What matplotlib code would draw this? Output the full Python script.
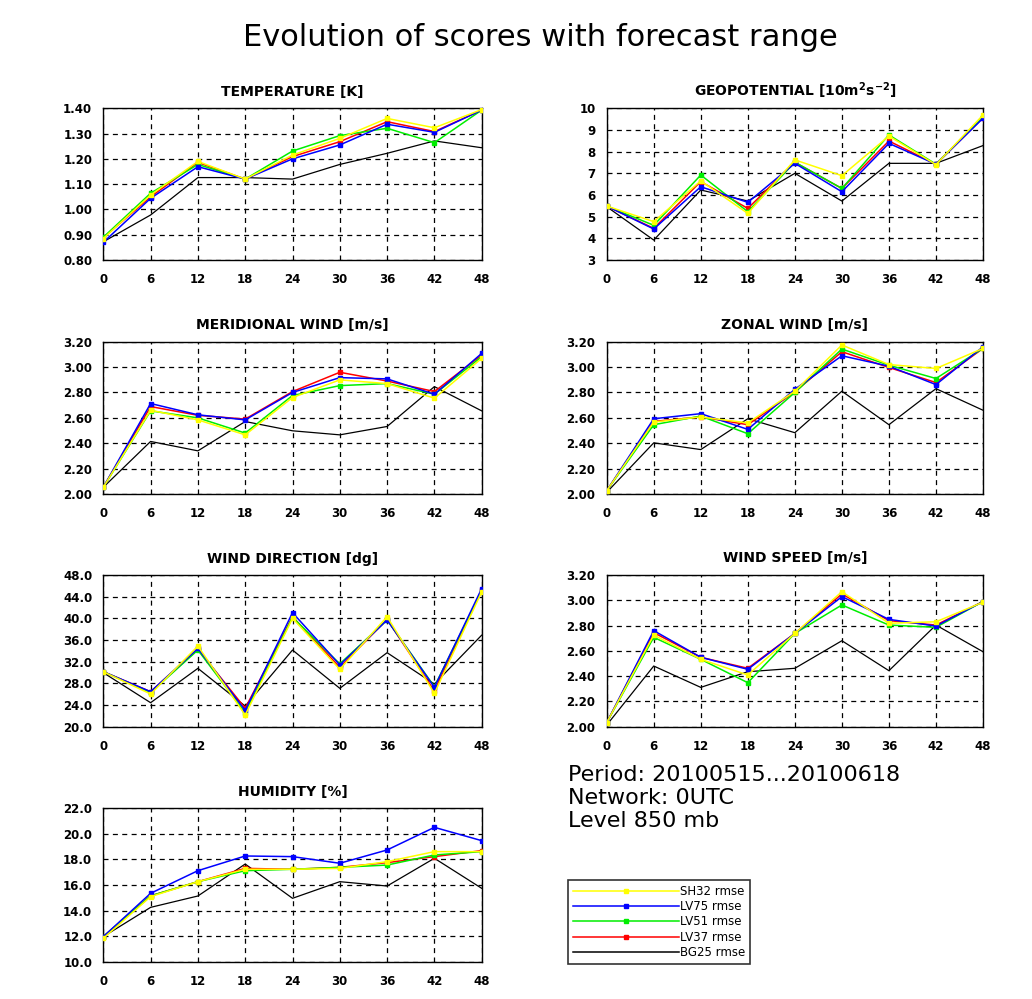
import matplotlib
matplotlib.use("Agg")
import matplotlib.pyplot as plt
from matplotlib.lines import Line2D

plt.rcParams['font.family'] = ['DejaVu Sans']
plt.rcParams['mathtext.fontset'] = 'dejavusans'
plt.rcParams['mathtext.default'] = 'bf'

# Forecast range (hours)
steps = [0, 6, 12, 18, 24, 30, 36, 42, 48]

series_names = ["SH32 rmse", "LV75 rmse", "LV51 rmse", "LV37 rmse", "BG25 rmse"]
series_colors = ["#ffff00", "#0000ff", "#00ee00", "#ff0000", "#000000"]

# RMSE per parameter: SH32, LV75, LV51, LV37, BG25
temp_sh32 = [0.885, 1.057, 1.190, 1.120, 1.215, 1.281, 1.360, 1.323, 1.395]
temp_lv75 = [0.870, 1.044, 1.169, 1.120, 1.200, 1.255, 1.337, 1.305, 1.393]
temp_lv51 = [0.890, 1.064, 1.178, 1.120, 1.231, 1.292, 1.321, 1.264, 1.393]
temp_lv37 = [0.888, 1.050, 1.186, 1.120, 1.209, 1.268, 1.347, 1.308, 1.393]
temp_bg25 = [0.872, 0.978, 1.126, 1.126, 1.120, 1.178, 1.222, 1.271, 1.244]

geo_sh32 = [5.49, 4.77, 6.65, 5.15, 7.62, 6.89, 8.72, 7.40, 9.69]
geo_lv75 = [5.49, 4.43, 6.38, 5.66, 7.46, 6.15, 8.38, 7.42, 9.54]
geo_lv51 = [5.49, 4.60, 6.92, 5.23, 7.51, 6.30, 8.77, 7.42, 9.60]
geo_lv37 = [5.49, 4.46, 6.62, 5.38, 7.51, 6.30, 8.49, 7.42, 9.57]
geo_bg25 = [5.46, 3.92, 6.23, 5.72, 7.00, 5.72, 7.46, 7.46, 8.28]

mer_sh32 = [2.053, 2.660, 2.584, 2.466, 2.760, 2.899, 2.870, 2.755, 3.069]
mer_lv75 = [2.053, 2.713, 2.624, 2.584, 2.800, 2.917, 2.907, 2.786, 3.108]
mer_lv51 = [2.053, 2.655, 2.600, 2.480, 2.776, 2.854, 2.870, 2.786, 3.082]
mer_lv37 = [2.053, 2.689, 2.620, 2.590, 2.807, 2.959, 2.890, 2.807, 3.095]
mer_bg25 = [2.053, 2.414, 2.340, 2.571, 2.498, 2.466, 2.532, 2.846, 2.655]

zon_sh32 = [2.026, 2.567, 2.607, 2.560, 2.810, 3.174, 3.020, 2.989, 3.147]
zon_lv75 = [2.026, 2.593, 2.633, 2.509, 2.825, 3.089, 3.007, 2.862, 3.160]
zon_lv51 = [2.026, 2.546, 2.614, 2.475, 2.800, 3.142, 3.015, 2.910, 3.147]
zon_lv37 = [2.026, 2.572, 2.607, 2.546, 2.804, 3.121, 2.997, 2.878, 3.147]
zon_bg25 = [2.013, 2.403, 2.350, 2.593, 2.483, 2.810, 2.546, 2.830, 2.660]

dir_sh32 = [30.15, 26.03, 34.89, 22.15, 40.00, 30.60, 40.30, 26.15, 44.90]
dir_lv75 = [30.15, 26.46, 34.46, 23.00, 41.05, 31.40, 39.70, 27.26, 45.50]
dir_lv51 = [30.15, 26.30, 34.15, 22.60, 40.20, 31.60, 39.70, 27.40, 45.10]
dir_lv37 = [30.15, 26.46, 34.30, 23.40, 40.30, 30.95, 39.80, 26.60, 45.20]
dir_bg25 = [29.97, 24.43, 30.77, 23.80, 34.15, 27.08, 33.66, 27.88, 36.90]

spd_sh32 = [2.032, 2.725, 2.533, 2.409, 2.738, 3.068, 2.818, 2.830, 2.985]
spd_lv75 = [2.032, 2.760, 2.549, 2.454, 2.738, 3.029, 2.849, 2.796, 2.990]
spd_lv51 = [2.032, 2.707, 2.533, 2.348, 2.738, 2.963, 2.804, 2.786, 2.990]
spd_lv37 = [2.032, 2.744, 2.549, 2.462, 2.738, 3.050, 2.839, 2.804, 2.990]
spd_bg25 = [2.013, 2.480, 2.311, 2.435, 2.462, 2.680, 2.443, 2.804, 2.593]

hum_sh32 = [11.83, 15.09, 16.26, 17.23, 17.23, 17.30, 17.83, 18.61, 18.61]
hum_lv75 = [11.96, 15.35, 17.12, 18.27, 18.22, 17.70, 18.74, 20.51, 19.47]
hum_lv51 = [11.96, 15.15, 16.26, 17.12, 17.23, 17.38, 17.56, 18.35, 18.61]
hum_lv37 = [11.96, 15.15, 16.26, 17.30, 17.23, 17.38, 17.75, 18.22, 18.69]
hum_bg25 = [11.96, 14.25, 15.14, 17.64, 14.96, 16.26, 15.92, 18.09, 15.74]

panel_titles = [
    "TEMPERATURE [K]",
    r"GEOPOTENTIAL [10m$^{2}$s$^{-2}$]",
    "MERIDIONAL WIND [m/s]",
    "ZONAL WIND [m/s]",
    "WIND DIRECTION [dg]",
    "WIND SPEED [m/s]",
    "HUMIDITY [%]",
]
panel_data = [
    [temp_sh32, temp_lv75, temp_lv51, temp_lv37, temp_bg25],
    [geo_sh32, geo_lv75, geo_lv51, geo_lv37, geo_bg25],
    [mer_sh32, mer_lv75, mer_lv51, mer_lv37, mer_bg25],
    [zon_sh32, zon_lv75, zon_lv51, zon_lv37, zon_bg25],
    [dir_sh32, dir_lv75, dir_lv51, dir_lv37, dir_bg25],
    [spd_sh32, spd_lv75, spd_lv51, spd_lv37, spd_bg25],
    [hum_sh32, hum_lv75, hum_lv51, hum_lv37, hum_bg25],
]
panel_yticks = [
    [0.80, 0.90, 1.00, 1.10, 1.20, 1.30, 1.40],
    [3, 4, 5, 6, 7, 8, 9, 10],
    [2.00, 2.20, 2.40, 2.60, 2.80, 3.00, 3.20],
    [2.00, 2.20, 2.40, 2.60, 2.80, 3.00, 3.20],
    [20.0, 24.0, 28.0, 32.0, 36.0, 40.0, 44.0, 48.0],
    [2.00, 2.20, 2.40, 2.60, 2.80, 3.00, 3.20],
    [10.0, 12.0, 14.0, 16.0, 18.0, 20.0, 22.0],
]
panel_yfmt = ["{:.2f}", "{:.0f}", "{:.2f}", "{:.2f}", "{:.1f}", "{:.2f}", "{:.1f}"]

W, H = 1032, 999
fig = plt.figure(figsize=(W / 100, H / 100), dpi=100)

# panel boxes in pixels: (left, top, right, bottom)
left_col = (103.3, 481.7)
right_col = (606.7, 983.0)
rows = [(108.3, 260.0), (341.7, 494.0), (575.0, 726.7), (808.3, 961.7)]
boxes = []
for r, (t, b) in enumerate(rows):
    for c, (l, rt) in enumerate([left_col, right_col]):
        if len(boxes) < 7:
            boxes.append((l, t, rt, b))

draw_order = [4, 3, 2, 1, 0]  # BG25 first, SH32 on top
for i, (l, t, r, b) in enumerate(boxes):
    ax = fig.add_axes([l / W, 1 - b / H, (r - l) / W, (b - t) / H])
    for k in draw_order:
        if k == 4:
            ax.plot(steps, panel_data[i][k], color=series_colors[k], lw=0.9, zorder=3)
        else:
            ax.plot(steps, panel_data[i][k], color=series_colors[k], lw=1.1,
                    marker='s', ms=2.2, mec=series_colors[k], zorder=3 + (4 - k))
    yt = panel_yticks[i]
    ax.set_xlim(0, 48)
    ax.set_ylim(yt[0], yt[-1])
    ax.set_xticks(steps)
    ax.set_xticklabels([str(s) for s in steps])
    ax.set_yticks(yt)
    ax.set_yticklabels([panel_yfmt[i].format(v) for v in yt])
    ax.tick_params(length=0, labelsize=8.5, pad=8)
    ax.tick_params(axis='x', pad=9.5)
    for lab in ax.get_xticklabels() + ax.get_yticklabels():
        lab.set_fontweight('bold')
    ax.grid(True, color='black', linestyle=(0, (4, 3.5)), lw=0.9)
    ax.set_axisbelow(True)
    for sp in ax.spines.values():
        sp.set_linewidth(1.0)
        sp.set_color('black')
    ax.set_title(panel_titles[i], fontsize=10, fontweight='bold', pad=9)

fig.text(0.524, 1 - 38 / H, "Evolution of scores with forecast range",
         ha='center', va='center', fontsize=22)

fig.text(568 / W, 1 - 765 / H, "Period: 20100515...20100618\nNetwork: 0UTC\nLevel 850 mb",
         ha='left', va='top', fontsize=16, linespacing=1.18)

# legend
handles = []
for k in range(5):
    if k == 4:
        handles.append(Line2D([], [], color=series_colors[k], lw=1.1))
    else:
        handles.append(Line2D([], [], color=series_colors[k], lw=1.1, marker='s',
                              ms=3, mec=series_colors[k]))
leg = fig.legend(handles, series_names, loc='upper left',
                 bbox_to_anchor=(568.3 / W, 1 - 880 / H), fontsize=8.5,
                 frameon=True, fancybox=False, handlelength=9.0, handletextpad=0.1,
                 labelspacing=0.2, borderpad=0.4, borderaxespad=0, numpoints=1)
leg.get_frame().set_edgecolor('black')
leg.get_frame().set_linewidth(1.2)

fig.savefig("out.png", dpi=100)
